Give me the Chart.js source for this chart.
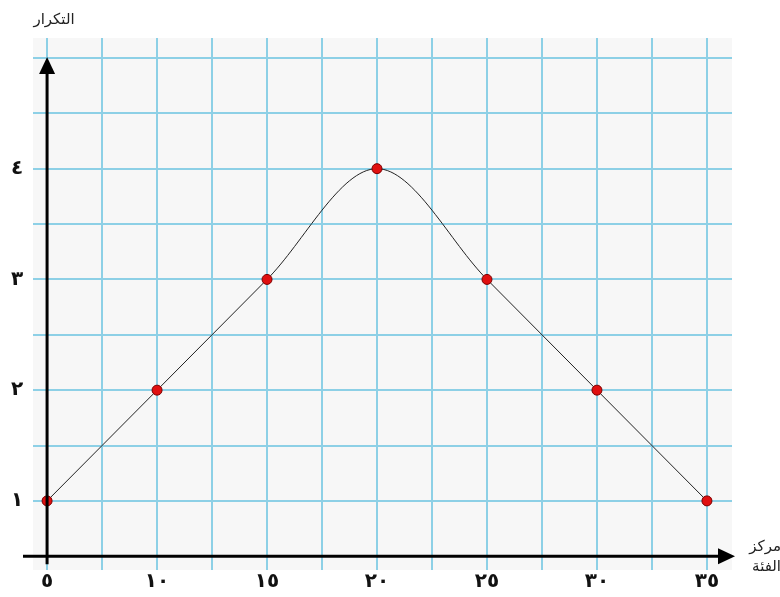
<!DOCTYPE html>
<html>
<head>
<meta charset="utf-8">
<script src="https://cdn.jsdelivr.net/npm/chart.js@4"></script>
<style>
  html, body { margin: 0; padding: 0; background: #fff; }
  #wrap { width: 780px; height: 597px; position: relative; }
</style>
</head>
<body>
<div id="wrap"><canvas id="chart"></canvas></div>
<script>
const classCentres = [ 5, 10, 15, 20, 25, 30, 35 ]
const frequencies = [ 1, 2, 3, 4, 3, 2, 1 ]
const xTickLabels = [ '٥', '١٠', '١٥', '٢٠', '٢٥', '٣٠', '٣٥' ]
const yTickValues = [ 1, 2, 3, 4 ]
const yTickLabels = [ '١', '٢', '٣', '٤' ]
const yTitle = 'التكرار'
const xTitle = [ 'مركز', 'الفئة' ]

const GRID = '#8dd0e6'
const ARABIC = '"DejaVu Sans", sans-serif'

const gridSteps = ( from, to, step ) => {
  const out = [ ]
  for ( let v = from; v <= to + 1e-9; v += step ) out.push( { value: v } )
  return out
}

const paper = {
  id: 'paper',
  beforeDraw( chart ) {
    const { ctx, chartArea: a } = chart
    ctx.save()
    ctx.fillStyle = '#f7f7f7'
    ctx.fillRect( a.left, a.top, a.right - a.left, a.bottom - a.top )
    ctx.restore()
  },
  afterDraw( chart ) {
    const { ctx } = chart
    const x = chart.scales.x, y = chart.scales.y
    const x0 = x.getPixelForValue( 5 ), y0 = y.getPixelForValue( 0.5 )
    ctx.save()
    ctx.strokeStyle = '#000'
    ctx.fillStyle = '#000'
    ctx.lineWidth = 3
    // y axis with arrow
    ctx.beginPath()
    ctx.moveTo( x0, y0 + 8 )
    ctx.lineTo( x0, 70 )
    ctx.stroke()
    ctx.beginPath()
    ctx.moveTo( x0, 57 ); ctx.lineTo( x0 - 8, 74 ); ctx.lineTo( x0 + 8, 74 )
    ctx.closePath(); ctx.fill()
    // x axis with arrow
    ctx.beginPath()
    ctx.moveTo( 23, y0 )
    ctx.lineTo( 720, y0 )
    ctx.stroke()
    ctx.beginPath()
    ctx.moveTo( 735, y0 ); ctx.lineTo( 718, y0 - 8 ); ctx.lineTo( 718, y0 + 8 )
    ctx.closePath(); ctx.fill()

    ctx.fillStyle = '#111'
    ctx.font = 'bold 20px ' + ARABIC
    ctx.textAlign = 'center'
    ctx.textBaseline = 'middle'
    classCentres.forEach( ( c, i ) => {
      ctx.fillText( xTickLabels[ i ], x.getPixelForValue( c ), 582 )
    } )
    yTickValues.forEach( ( v, i ) => {
      ctx.fillText( yTickLabels[ i ], 17, y.getPixelForValue( v ) )
    } )

    ctx.font = '15px ' + ARABIC
    ctx.fillStyle = '#222'
    ctx.textAlign = 'center'
    ctx.fillText( yTitle, 54, 20 )
    ctx.textAlign = 'right'
    ctx.fillText( xTitle[ 0 ], 781, 547 )
    ctx.fillText( xTitle[ 1 ], 781, 567 )
    ctx.restore()
  }
}

new Chart( document.getElementById( 'chart' ), {
  type: 'line',
  data: {
    datasets: [ {
      data: classCentres.map( ( c, i ) => ( { x: c, y: frequencies[ i ] } ) ),
      borderColor: '#222',
      borderWidth: 1,
      cubicInterpolationMode: 'monotone',
      pointRadius: 5,
      pointBackgroundColor: '#e01010',
      pointBorderColor: '#7a0000',
      pointBorderWidth: 1
    } ]
  },
  options: {
    responsive: true,
    maintainAspectRatio: false,
    animation: false,
    events: [ ],
    layout: { padding: { left: 33, right: 48, top: 38, bottom: 27 } },
    plugins: { legend: { display: false }, tooltip: { enabled: false } },
    scales: {
      x: {
        type: 'linear',
        min: 4.36, max: 36.14,
        afterBuildTicks: ( s ) => { s.ticks = gridSteps( 5, 35, 2.5 ) },
        ticks: { display: false },
        grid: { color: GRID, lineWidth: 2, drawTicks: false },
        border: { display: false }
      },
      y: {
        type: 'linear',
        min: 0.376, max: 5.18,
        afterBuildTicks: ( s ) => { s.ticks = gridSteps( 1, 5, 0.5 ) },
        ticks: { display: false },
        grid: { color: GRID, lineWidth: 2, drawTicks: false },
        border: { display: false }
      }
    }
  },
  plugins: [ paper ]
} )
</script>
</body>
</html>
